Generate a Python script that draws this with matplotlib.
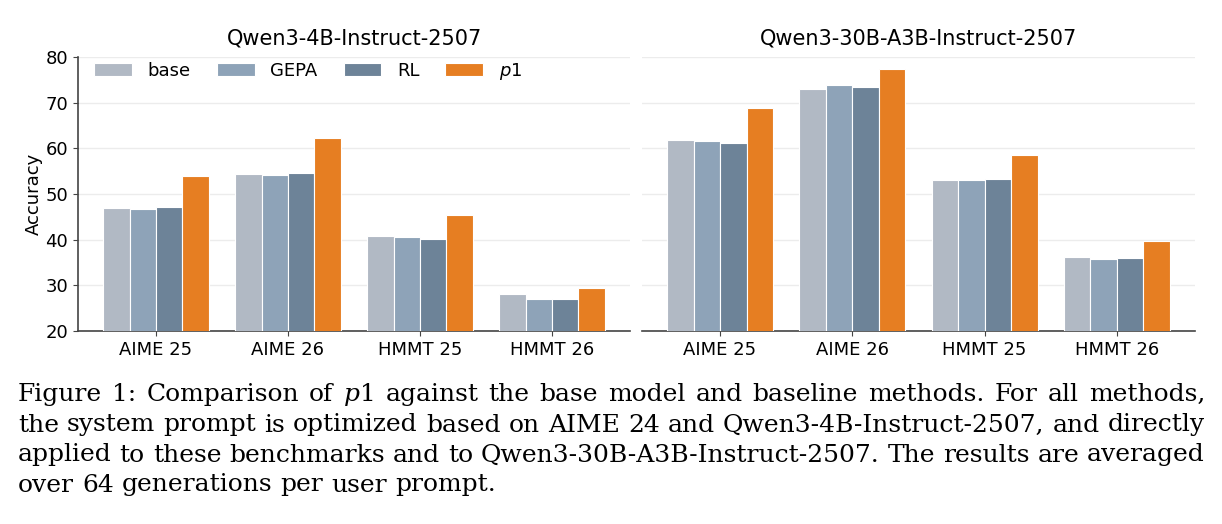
import matplotlib
matplotlib.use("Agg")
import matplotlib.pyplot as plt
import numpy as np

benchmarks = ["AIME 25", "AIME 26", "HMMT 25", "HMMT 26"]
methods = ["base", "GEPA", "RL", "$p$1"]
colors = ["#b1b9c4", "#8ea3b8", "#6d8398", "#e67e22"]

titles = ["Qwen3-4B-Instruct-2507", "Qwen3-30B-A3B-Instruct-2507"]

# accuracy per method, one value per benchmark
acc_4b = {
    "base": [47.0, 54.4, 40.7, 28.0],
    "GEPA": [46.8, 54.2, 40.5, 27.1],
    "RL": [47.2, 54.5, 40.2, 27.1],
    "$p$1": [54.0, 62.2, 45.4, 29.5],
}
acc_30b = {
    "base": [61.9, 72.9, 53.1, 36.2],
    "GEPA": [61.7, 73.8, 53.0, 35.7],
    "RL": [61.2, 73.5, 53.3, 36.0],
    "$p$1": [68.8, 77.3, 58.5, 39.7],
}

caption_lines = [
    "Figure 1: Comparison of p1 against the base model and baseline methods. For all methods,",
    "the system prompt is optimized based on AIME 24 and Qwen3-4B-Instruct-2507, and directly",
    "applied to these benchmarks and to Qwen3-30B-A3B-Instruct-2507. The results are averaged",
    "over 64 generations per user prompt.",
]

W, H = 1222, 524
fig = plt.figure(figsize=(W / 100, H / 100), dpi=100)

ax1 = fig.add_axes([78 / W, (H - 331) / H, 552 / W, 274 / H])
ax2 = fig.add_axes([642 / W, (H - 331) / H, 553 / W, 274 / H])

x = np.arange(len(benchmarks))
width = 0.2

for ax, data, title in zip([ax1, ax2], [acc_4b, acc_30b], titles):
    for i, m in enumerate(methods):
        ax.bar(x + (i - 1.5) * width, data[m], width, color=colors[i],
               edgecolor="white", linewidth=0.8, label=m, zorder=3)
    ax.set_ylim(20, 80)
    ax.set_xlim(-0.59, 3.59)
    ax.set_xticks(x)
    ax.set_xticklabels(benchmarks, fontsize=13)
    ax.set_yticks(range(20, 81, 10))
    ax.yaxis.grid(True, color="#ececec", linewidth=1, zorder=0)
    ax.set_axisbelow(True)
    ax.set_title(title, fontsize=15, pad=9)
    for s in ["top", "right"]:
        ax.spines[s].set_visible(False)
    for s in ["left", "bottom"]:
        ax.spines[s].set_color("#444444")
        ax.spines[s].set_linewidth(1.2)
    ax.tick_params(colors="#444444", labelcolor="black", labelsize=13)

ax1.set_ylabel("Accuracy", fontsize=13, labelpad=2)
ax2.spines["left"].set_visible(False)
ax2.tick_params(axis="y", left=False, labelleft=False)

ax1.legend(loc="upper left", bbox_to_anchor=(0.0, 1.045), ncol=4, frameon=False,
           fontsize=13, handlelength=2.1, handleheight=0.7, handletextpad=0.85,
           columnspacing=1.45)

# caption, justified word by word like the paper
renderer = fig.canvas.get_renderer()
cap_font = dict(family="DejaVu Serif", fontsize=18)
left_px, right_px = 18, 1205
baselines = [401, 431.5, 461.5, 491.5]

for n, line in enumerate(caption_lines):
    words = line.split(" ")
    pieces = []
    for w in words:
        if w == "p1":
            parts = [fig.text(0, 0, "p", style="italic", **cap_font),
                     fig.text(0, 0, "1", **cap_font)]
        else:
            parts = [fig.text(0, 0, w, **cap_font)]
        widths = [p.get_window_extent(renderer).width for p in parts]
        pieces.append((parts, widths))
    total = sum(sum(ws) for _, ws in pieces)
    sp = fig.text(0, 0, "a b", **cap_font)
    ab = fig.text(0, 0, "ab", **cap_font)
    space = sp.get_window_extent(renderer).width - ab.get_window_extent(renderer).width
    sp.remove()
    ab.remove()
    if n < len(caption_lines) - 1:
        gap = (right_px - left_px - total) / (len(pieces) - 1)
    else:
        gap = space
    cur = left_px
    for parts, widths in pieces:
        for p, w in zip(parts, widths):
            p.set_position((cur / W, (H - baselines[n]) / H))
            p.set_va("baseline")
            cur += w
        cur += gap

fig.savefig("out.png", dpi=100)
